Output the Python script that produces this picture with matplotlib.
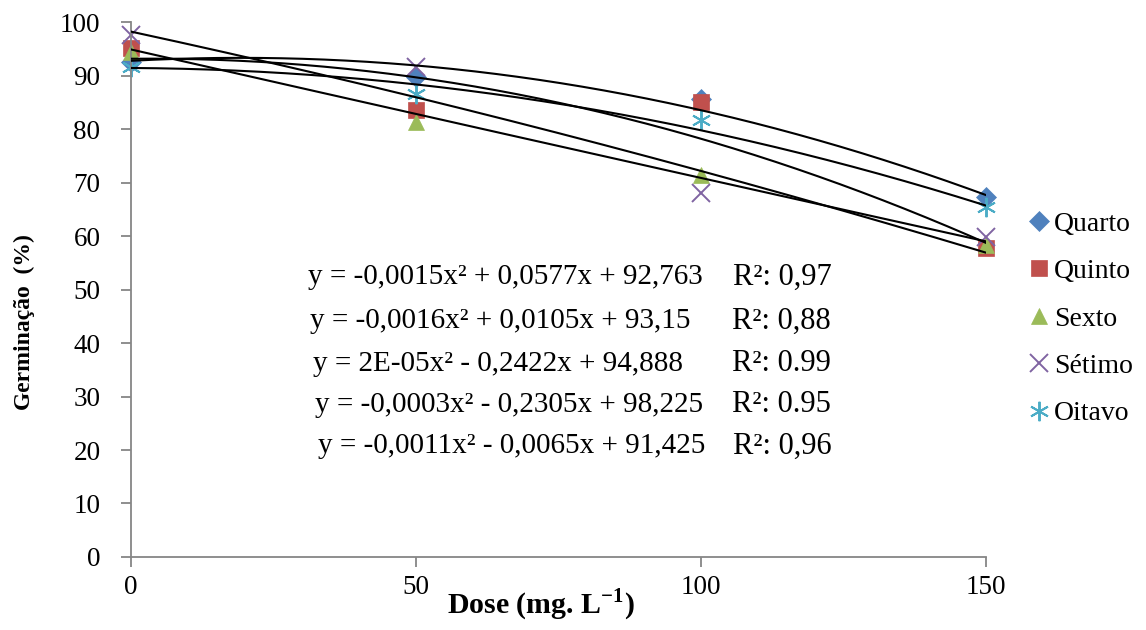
import numpy as np
import matplotlib.pyplot as plt

plt.rcParams['font.family'] = ['Liberation Serif', 'DejaVu Serif']
plt.rcParams['mathtext.fontset'] = 'custom'
plt.rcParams['mathtext.rm'] = 'Liberation Serif'
plt.rcParams['mathtext.bf'] = 'Liberation Serif:bold'

# dados
doses = [0, 50, 100, 150]
quarto = [92.5, 89.7, 85.6, 67.3]
quinto = [95.1, 83.5, 85.0, 57.8]
sexto = [94.4, 81.3, 71.4, 58.3]
setimo = [97.5, 91.7, 68.0, 59.8]
oitavo = [91.6, 86.5, 81.7, 65.4]

nomes = ['Quarto', 'Quinto', 'Sexto', 'Sétimo', 'Oitavo']

# coeficientes das linhas de tendencia (a, b, c) -> y = a x² + b x + c
coef_quarto = [-0.0015, 0.0577, 92.763]
coef_quinto = [-0.0016, 0.0105, 93.15]
coef_sexto = [2e-05, -0.2422, 94.888]
coef_setimo = [-0.0003, -0.2305, 98.225]
coef_oitavo = [-0.0011, -0.0065, 91.425]

equacoes = ['y = -0,0015x² + 0,0577x + 92,763',
            'y = -0,0016x² + 0,0105x + 93,15',
            'y = 2E-05x² - 0,2422x + 94,888',
            'y = -0,0003x² - 0,2305x + 98,225',
            'y = -0,0011x² - 0,0065x + 91,425']
r2 = ['R²: 0,97', 'R²: 0,88', 'R²: 0.99', 'R²: 0.95', 'R²: 0,96']

series = [quarto, quinto, sexto, setimo, oitavo]
coefs = [coef_quarto, coef_quinto, coef_sexto, coef_setimo, coef_oitavo]
cores = ['#4F81BD', '#C0504D', '#9BBB59', '#8064A2', '#4BACC6']
marcadores = ['D', 's', '^', 'x', (6, 2, 0)]
tamanhos = [10, 12, 12, 13, 14]

fig = plt.figure(figsize=(11.46, 6.3), dpi=100)
ax = fig.add_axes([0.1143, 0.1159, 0.746, 0.849])

xs = np.linspace(0, 150, 200)
for ys, cf, nome, c, m, ms in zip(series, coefs, nomes, cores, marcadores, tamanhos):
    linha_marc = m == 'x' or isinstance(m, tuple)
    ax.plot(doses, ys, linestyle='none', marker=m, color=c, markersize=ms,
            markeredgewidth=1.4 if linha_marc else 0.5,
            label=nome, zorder=2, clip_on=False)
    ax.plot(xs, np.polyval(cf, xs), color='black', linewidth=1.5, zorder=3)

ax.set_xlim(0, 150)
ax.set_ylim(0, 100)
ax.set_xticks([0, 50, 100, 150])
ax.set_yticks(range(0, 101, 10))
for s in ['top', 'right']:
    ax.spines[s].set_visible(False)
for s in ['left', 'bottom']:
    ax.spines[s].set_color('#868686')
    ax.spines[s].set_linewidth(1.3)
ax.tick_params(axis='both', colors='#868686', labelcolor='black', labelsize=19.5,
               length=7, width=1.3)
ax.tick_params(axis='x', pad=6)
ax.tick_params(axis='y', pad=15)

fig.text(541 / 1146, 1 - 605 / 630, 'Dose (mg. L$^{\\mathbf{-1}}$)', fontsize=21.5,
         fontweight='bold', ha='center', va='center')
fig.text(24 / 1146, 1 - 322 / 630, 'Germinação  (%)', fontsize=17, fontweight='bold',
         rotation=90, ha='center', va='center')

# equacoes
eq_x = [308, 310, 313, 315, 318]
eq_y = [277, 321, 364, 405, 446]
r2_x = [733, 732, 732, 732, 733]
for e, r, xe, xr, yy in zip(equacoes, r2, eq_x, r2_x, eq_y):
    fig.text(xe / 1146, 1 - yy / 630, e, fontsize=21, va='center', ha='left')
    fig.text(xr / 1146, 1 - yy / 630, r, fontsize=22, va='center', ha='left')

leg = ax.legend(loc='center left', bbox_to_anchor=(0.893, 0.494), bbox_transform=fig.transFigure,
                frameon=False, fontsize=20, handletextpad=0.0, handlelength=1.1,
                labelspacing=0.79, borderaxespad=0, borderpad=0)

fig.savefig('out.png', dpi=100)
